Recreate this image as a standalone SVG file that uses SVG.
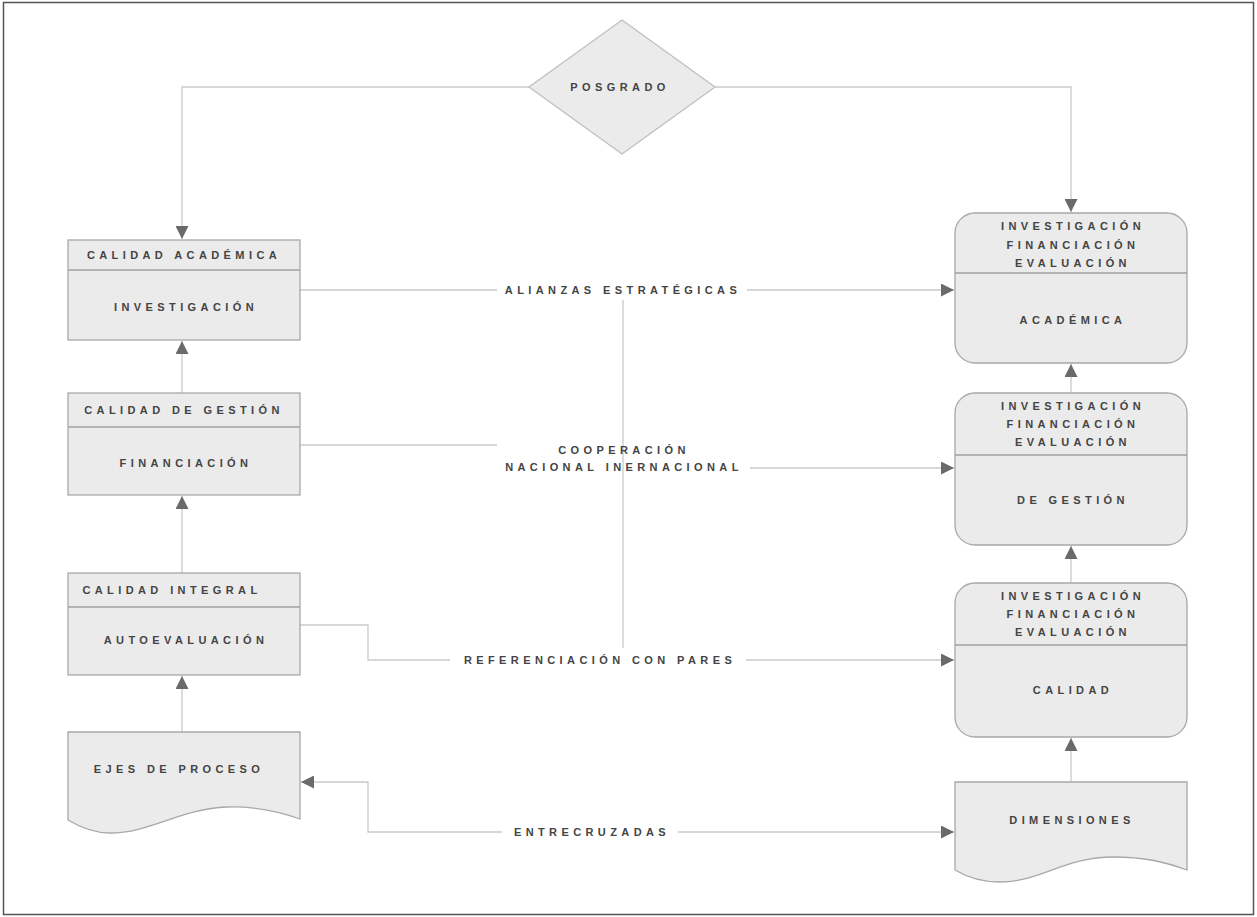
<svg xmlns="http://www.w3.org/2000/svg" width="1257" height="917" viewBox="0 0 1257 917">
<style>
.box{fill:#ebebeb;stroke:#a8a8a8;stroke-width:1.3}
.div{stroke:#a0a0a0;stroke-width:1.3}
.ln{fill:none;stroke:#cacaca;stroke-width:1.3}
.t{font-family:"Liberation Sans",Arial,sans-serif;font-size:11px;font-weight:bold;fill:#444;letter-spacing:4.4px;text-anchor:middle}
.lb{font-family:"Liberation Sans",Arial,sans-serif;font-size:11px;font-weight:bold;fill:#444;letter-spacing:4.4px;text-anchor:middle}
</style>
<defs>
<marker id="ah" viewBox="0 0 10 10" refX="10" refY="5" markerWidth="13" markerHeight="13" markerUnits="userSpaceOnUse" orient="auto">
<path d="M0,0 L10,5 L0,10 Z" fill="#6a6a6a"/>
</marker>
<marker id="as" viewBox="0 0 10 10" refX="0" refY="5" markerWidth="13" markerHeight="13" markerUnits="userSpaceOnUse" orient="auto">
<path d="M10,0 L0,5 L10,10 Z" fill="#6a6a6a"/>
</marker>
</defs>
<rect x="3.5" y="2.5" width="1250" height="912" fill="#fff" stroke="#555" stroke-width="1.5"/>

<g id="connectors">
<path class="ln" d="M529,87 H182 V239" marker-end="url(#ah)"/>
<path class="ln" d="M715,87 H1071 V212" marker-end="url(#ah)"/>
<path class="ln" d="M182,393 V341" marker-end="url(#ah)"/>
<path class="ln" d="M182,573 V496" marker-end="url(#ah)"/>
<path class="ln" d="M182,732 V676" marker-end="url(#ah)"/>
<path class="ln" d="M1071,393 V364" marker-end="url(#ah)"/>
<path class="ln" d="M1071,583 V546" marker-end="url(#ah)"/>
<path class="ln" d="M1071,782 V738" marker-end="url(#ah)"/>
<path class="ln" d="M300,290 H954" marker-end="url(#ah)"/>
<path class="ln" d="M300,445 H497"/>
<path class="ln" d="M750,468 H954" marker-end="url(#ah)"/>
<path class="ln" d="M300,625 H368 V660 H954" marker-end="url(#ah)"/>
<path class="ln" d="M301,782 H368 V832 H954" marker-start="url(#as)" marker-end="url(#ah)"/>
<path class="ln" d="M623,298 V648"/>
<rect x="497" y="280" width="250" height="20" fill="#fff"/>
<rect x="450" y="650" width="296" height="20" fill="#fff"/>
<rect x="502" y="822" width="176" height="20" fill="#fff"/>
<text class="lb" x="623" y="294">ALIANZAS ESTRATÉGICAS</text>
<text class="lb" x="624" y="454">COOPERACIÓN</text>
<text class="lb" x="624" y="471">NACIONAL INERNACIONAL</text>
<text class="lb" x="600" y="664">REFERENCIACIÓN CON PARES</text>
<text class="lb" x="592" y="836">ENTRECRUZADAS</text>
</g>

<g id="posgrado">
<polygon class="box" points="622,20 715,87 622,154 529,87" style="stroke:#c0c0c0"/>
<text class="t" x="620" y="91">POSGRADO</text>
</g>

<g id="calidad-academica">
<rect class="box" x="68" y="240" width="232" height="100"/>
<line class="div" x1="68" y1="270" x2="300" y2="270"/>
<text class="t" x="184" y="259">CALIDAD ACADÉMICA</text>
<text class="t" x="186" y="311">INVESTIGACIÓN</text>
</g>

<g id="calidad-gestion">
<rect class="box" x="68" y="393" width="232" height="102"/>
<line class="div" x1="68" y1="427" x2="300" y2="427"/>
<text class="t" x="184" y="414">CALIDAD DE GESTIÓN</text>
<text class="t" x="186" y="467">FINANCIACIÓN</text>
</g>

<g id="calidad-integral">
<rect class="box" x="68" y="573" width="232" height="102"/>
<line class="div" x1="68" y1="607" x2="300" y2="607"/>
<text class="t" x="172" y="594">CALIDAD INTEGRAL</text>
<text class="t" x="186" y="644">AUTOEVALUACIÓN</text>
</g>

<g id="ejes">
<path class="box" d="M68,732 H300 V819 C280,812 255,806 227,807 C180,809 150,833 110,833 C92,833 78,826 68,820 Z"/>
<text class="t" x="179" y="773">EJES DE PROCESO</text>
</g>

<g id="academica">
<rect class="box" x="955" y="213" width="232" height="150" rx="20" ry="20"/>
<line class="div" x1="955" y1="273" x2="1187" y2="273"/>
<text class="t" x="1073" y="230">INVESTIGACIÓN</text>
<text class="t" x="1073" y="249">FINANCIACIÓN</text>
<text class="t" x="1073" y="267">EVALUACIÓN</text>
<text class="t" x="1073" y="324">ACADÉMICA</text>
</g>

<g id="de-gestion">
<rect class="box" x="955" y="393" width="232" height="152" rx="20" ry="20"/>
<line class="div" x1="955" y1="455" x2="1187" y2="455"/>
<text class="t" x="1073" y="410">INVESTIGACIÓN</text>
<text class="t" x="1073" y="428">FINANCIACIÓN</text>
<text class="t" x="1073" y="446">EVALUACIÓN</text>
<text class="t" x="1073" y="504">DE GESTIÓN</text>
</g>

<g id="calidad">
<rect class="box" x="955" y="583" width="232" height="154" rx="20" ry="20"/>
<line class="div" x1="955" y1="645" x2="1187" y2="645"/>
<text class="t" x="1073" y="600">INVESTIGACIÓN</text>
<text class="t" x="1073" y="618">FINANCIACIÓN</text>
<text class="t" x="1073" y="636">EVALUACIÓN</text>
<text class="t" x="1073" y="694">CALIDAD</text>
</g>

<g id="dimensiones">
<path class="box" d="M955,782 H1187 V870 C1165,862 1145,857 1113,857 C1065,857 1040,882 1000,882 C980,882 965,876 955,870 Z"/>
<text class="t" x="1072" y="824">DIMENSIONES</text>
</g>
</svg>
